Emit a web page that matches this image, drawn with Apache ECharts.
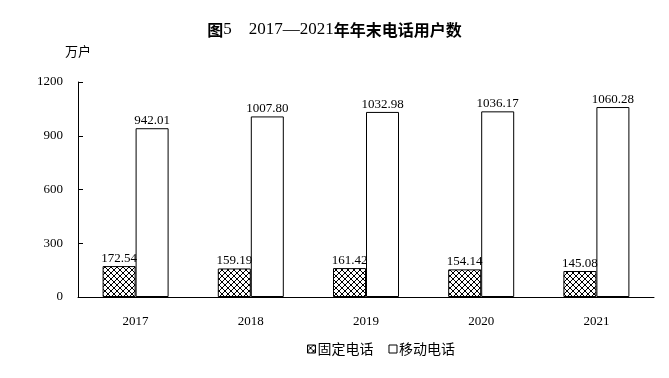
<!DOCTYPE html>
<html><head><meta charset="utf-8">
<script src="https://cdn.jsdelivr.net/npm/echarts@6/dist/echarts.min.js"></script>
<style>html,body{margin:0;padding:0;background:#fff}#c{width:669px;height:378px}</style>
</head><body><div id="c"></div>
<script>
const categories = ['2017','2018','2019','2020','2021'];
const fixedPhone = [172.54, 159.19, 161.42, 154.14, 145.08];
const mobilePhone = [942.01, 1007.80, 1032.98, 1036.17, 1060.28];
const yTicks = [0, 300, 600, 900, 1200];

function hatch(){
  const c = document.createElement('canvas');
  c.width = 6; c.height = 6;
  const g = c.getContext('2d');
  g.fillStyle = '#fff'; g.fillRect(0,0,6,6);
  g.strokeStyle = '#000'; g.lineWidth = 1;
  g.beginPath();
  g.moveTo(0,0); g.lineTo(6,6);
  g.moveTo(0,6); g.lineTo(6,0);
  g.stroke();
  return c;
}
const pat = {image: hatch(), repeat: 'repeat'};
const serif = '"Liberation Serif","Times New Roman",serif';
const cjk = '"Noto Sans CJK SC",sans-serif';

const chart = echarts.init(document.getElementById('c'));
chart.setOption({
  animation: false,
  backgroundColor: '#fff',
  title: {
    text: '{a|图}{b|5    2017—2021}{a|年年末电话用户数}',
    left: 'center', top: 16,
    textStyle: {
      rich: {
        a: {fontFamily: cjk, fontWeight: 'bold', fontSize: 16, color: '#000'},
        b: {fontFamily: serif, fontWeight: 'normal', fontSize: 17, color: '#000'}
      }
    }
  },
  grid: {left: 78, right: 15, top: 82, bottom: 81},
  legend: {
    bottom: 17, left: 302, itemWidth: 8, itemHeight: 8, itemGap: 15,
    icon: 'rect',
    textStyle: {fontFamily: cjk, fontSize: 14, color: '#000', padding: [0, 0, 0, -3]},
    data: [
      {name: '固定电话', itemStyle: {color: pat, borderColor: '#000', borderWidth: 1}},
      {name: '移动电话', itemStyle: {color: '#fff', borderColor: '#000', borderWidth: 1}}
    ]
  },
  xAxis: {
    type: 'category', data: categories,
    axisLine: {lineStyle: {color: '#000', width: 1}},
    axisTick: {inside: true, length: 5, lineStyle: {color: '#000'}},
    axisLabel: {fontFamily: serif, fontSize: 13, color: '#000', margin: 18}
  },
  yAxis: {
    type: 'value', min: yTicks[0], max: yTicks[yTicks.length-1], interval: 300,
    name: '万户', nameLocation: 'end', nameGap: 24,
    nameTextStyle: {fontFamily: cjk, fontSize: 13, color: '#000', align: 'center'},
    axisLine: {show: true, lineStyle: {color: '#000', width: 1}},
    axisTick: {show: true, inside: true, length: 5, lineStyle: {color: '#000'}},
    splitLine: {show: false},
    axisLabel: {fontFamily: serif, fontSize: 13, color: '#000', margin: 15,
      formatter: v => String(v)}
  },
  series: [
    {
      name: '固定电话', type: 'bar', data: fixedPhone, barWidth: 33, barGap: '0%',
      itemStyle: {color: pat, borderColor: '#000', borderWidth: 1},
      label: {show: true, position: 'top', distance: 1, fontFamily: serif, fontSize: 13, color: '#000',
        formatter: p => p.value.toFixed(2)}
    },
    {
      name: '移动电话', type: 'bar', data: mobilePhone, barWidth: 33, barGap: '0%',
      itemStyle: {color: '#fff', borderColor: '#000', borderWidth: 1},
      label: {show: true, position: 'top', distance: 1, fontFamily: serif, fontSize: 13, color: '#000',
        formatter: p => p.value.toFixed(2)}
    }
  ]
});
</script></body></html>
